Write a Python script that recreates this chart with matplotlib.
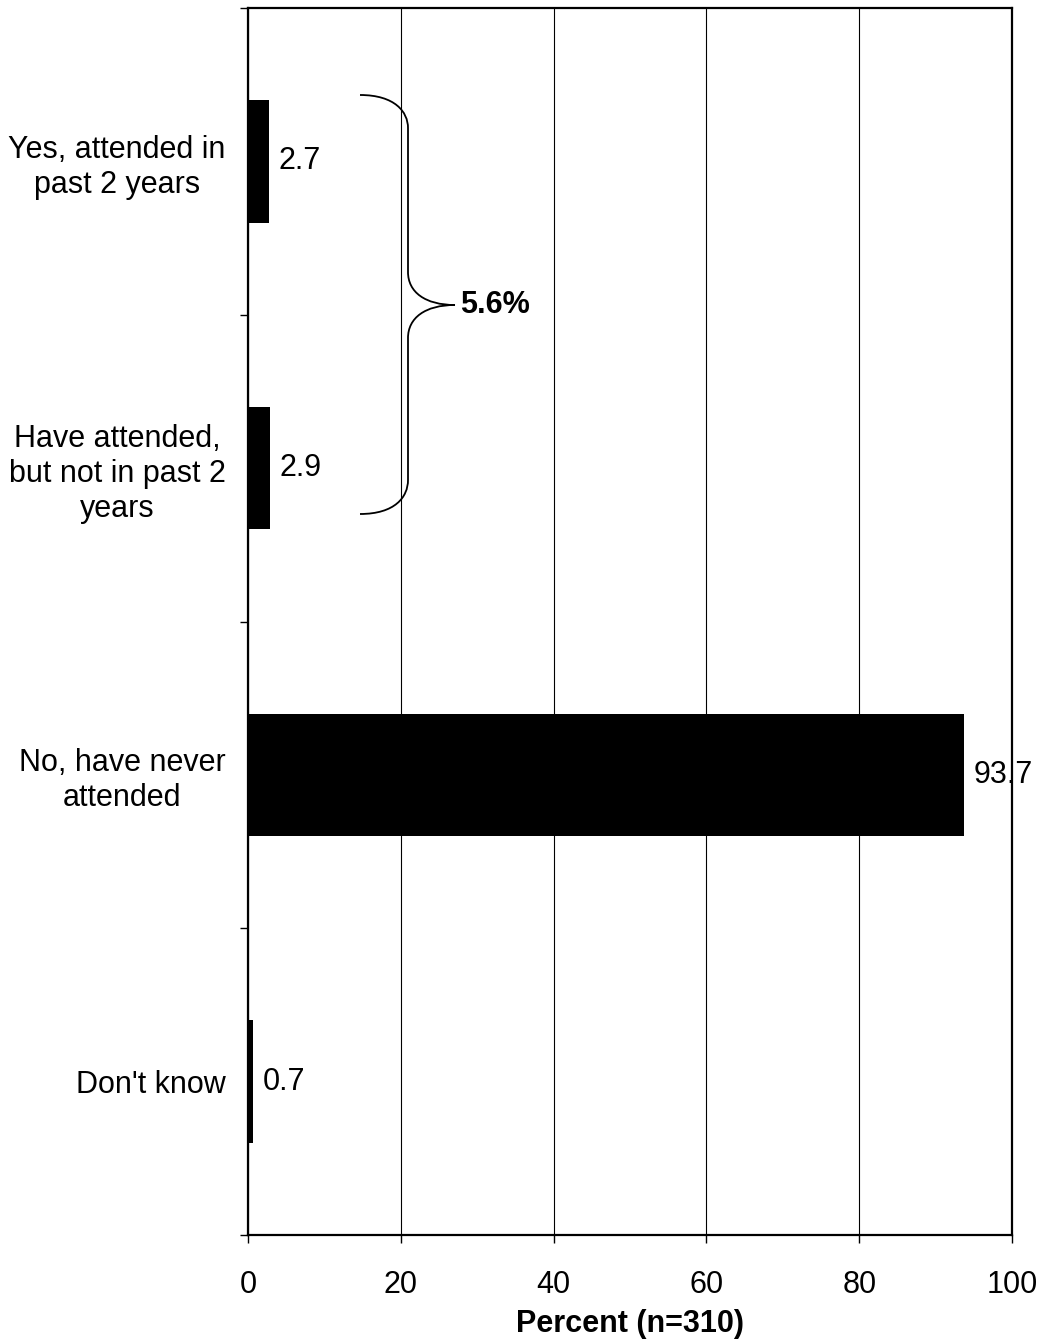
import matplotlib
matplotlib.use("Agg")
import matplotlib.pyplot as plt
from matplotlib.path import Path
from matplotlib.patches import PathPatch
import numpy as np

categories = ["Yes, attended in\npast 2 years",
              "Have attended,\nbut not in past 2\nyears",
              "No, have never\nattended",
              "Don't know"]
values = [2.7, 2.9, 93.7, 0.7]
value_labels = ["2.7", "2.9", "93.7", "0.7"]
x_ticks = [0, 20, 40, 60, 80, 100]
x_label = "Percent (n=310)"
bracket_label = "5.6%"

plt.rcParams['font.family'] = ['Liberation Sans', 'DejaVu Sans']
FS = 22

fig = plt.figure(figsize=(10.4, 13.43), dpi=100)
ax = fig.add_axes([248/1040, 1-1235/1343, (1012-248)/1040, (1235-8)/1343])

ypos = np.arange(len(categories))
ax.barh(ypos, values, height=0.4, color='black', zorder=3)
ax.set_xlim(0, 100)
ax.set_ylim(3.5, -0.5)

ax.set_xticks(x_ticks)
ax.set_xticklabels([str(t) for t in x_ticks], fontsize=FS)
ax.tick_params(axis='x', direction='out', length=6, width=1, pad=19)
ax.set_yticks(np.arange(-0.5, 4.0, 1.0))
ax.set_yticklabels([])
ax.tick_params(axis='y', direction='out', length=6, width=1)
ax.set_yticks(ypos, minor=True)
ax.set_yticklabels(categories, minor=True, fontsize=FS, ha='right',
                   multialignment='center', linespacing=1.22)
ax.tick_params(axis='y', which='minor', length=0, pad=16)

ax.xaxis.grid(True, color='black', linewidth=0.8, zorder=0)
ax.set_axisbelow(True)
for s in ax.spines.values():
    s.set_linewidth(1.6)
    s.set_zorder(4)

ax.set_xlabel(x_label, fontsize=FS, fontweight='bold', labelpad=7)

for y, v, lab in zip(ypos, values, value_labels):
    ax.annotate(lab, xy=(v, y), xytext=(7, 0), textcoords='offset points',
                ha='left', va='center', fontsize=FS, zorder=5)

# brace (pixel-based geometry converted to data)
def px2d(px, py):
    x = (px - 248) / (1012 - 248) * 100
    y = -0.5 + (py - 8) / (1235 - 8) * 4
    return (x, y)

pts = [(360, 95), (395, 95), (408, 112), (408, 128),
       (408, 272),
       (408, 292), (425, 305), (455, 305),
       (425, 305), (408, 318), (408, 338),
       (408, 480),
       (408, 497), (395, 514), (360, 514)]
codes = [Path.MOVETO, Path.CURVE4, Path.CURVE4, Path.CURVE4,
         Path.LINETO,
         Path.CURVE4, Path.CURVE4, Path.CURVE4,
         Path.CURVE4, Path.CURVE4, Path.CURVE4,
         Path.LINETO,
         Path.CURVE4, Path.CURVE4, Path.CURVE4]
path = Path([px2d(*p) for p in pts], codes)
ax.add_patch(PathPatch(path, facecolor='none', edgecolor='black', linewidth=1.3, zorder=5))
bx, by = px2d(460, 305)
ax.text(bx, by, bracket_label, fontsize=FS, fontweight='bold', ha='left', va='center', zorder=5)

fig.savefig("out.png", dpi=100)
